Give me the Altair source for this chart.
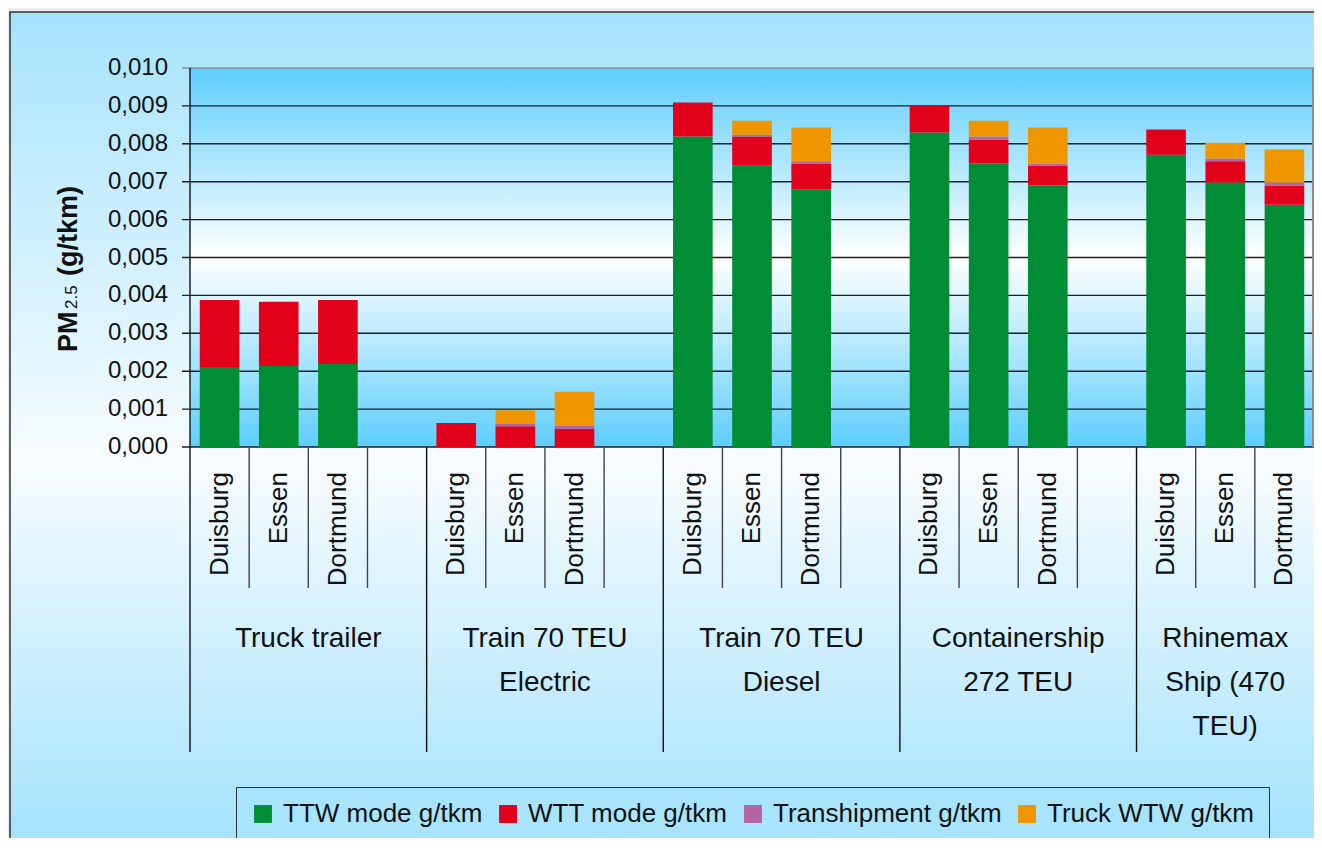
import altair as alt
import pandas as pd

# ---------------- data ----------------
groups = ["Truck trailer", "Train 70 TEU\nElectric", "Train 70 TEU\nDiesel",
          "Containership\n272 TEU", "Rhinemax\nShip (470\nTEU)"]
group_slots = [4, 4, 4, 4, 3]
cities = ["Duisburg", "Essen", "Dortmund"]
series = ["TTW mode g/tkm", "WTT mode g/tkm", "Transhipment g/tkm", "Truck WTW g/tkm"]
colors = ["#008d36", "#e2001a", "#b463a6", "#ee9500"]

ttw = [0.00211, 0.00214, 0.00219, 0.0, 0.0, 0.0, 0.00819, 0.00742, 0.00680,
       0.00830, 0.00748, 0.00690, 0.00771, 0.00698, 0.00639]
wtt = [0.00177, 0.00169, 0.00169, 0.00063, 0.00055, 0.00048, 0.00090, 0.00077, 0.00068,
       0.00071, 0.00063, 0.00052, 0.00067, 0.00056, 0.00051]
tranship = [0.0, 0.0, 0.0, 0.0, 0.00006, 0.00008, 0.0, 0.00005, 0.00006,
            0.0, 0.00008, 0.00006, 0.0, 0.00007, 0.00008]
truck_wtw = [0.0, 0.0, 0.0, 0.0, 0.00036, 0.00090, 0.0, 0.00037, 0.00089,
             0.0, 0.00042, 0.00095, 0.0, 0.00042, 0.00087]
y_ticks = [0.000, 0.001, 0.002, 0.003, 0.004, 0.005, 0.006, 0.007, 0.008, 0.009, 0.010]

FONT = "Liberation Sans"
W, H = 1124, 379
PAD_L, PAD_T, PAD_B = 182, 60, 391
N_SLOTS = sum(group_slots)

# ---------------- tables ----------------
all_series = [ttw, wtt, tranship, truck_wtw]
bar_rows, city_rows, group_rows, gsep_rows, csep_rows = [], [], [], [], []
for g in range(len(groups)):
    group_rows.append({"gc": 4 * g + group_slots[g] / 2, "label": groups[g]})
    gsep_rows.append({"b": 4 * g})
    for j in range(1, 4):
        if j < group_slots[g]:
            csep_rows.append({"b": 4 * g + j})
    for c in range(len(cities)):
        i = 3 * g + c
        slot = 4 * g + c
        city_rows.append({"cc": slot + 0.5, "city": cities[c]})
        for k, vals in enumerate(all_series):
            if vals[i] > 0:
                bar_rows.append({"slot": slot, "series": series[k], "k": k, "value": vals[i]})

bars_df = pd.DataFrame(bar_rows)
city_df = pd.DataFrame(city_rows)
group_df = pd.DataFrame(group_rows)
gsep_df = pd.DataFrame(gsep_rows)
csep_df = pd.DataFrame(csep_rows)
tick_df = pd.DataFrame({"t": y_ticks})
one = pd.DataFrame({"a": [0]})

xscale = alt.Scale(domain=[0, N_SLOTS], nice=False, zero=False)
yscale = alt.Scale(domain=[0, 0.010], nice=False)

# ---------------- backgrounds ----------------
outer_bg = alt.Chart(one).mark_rect(
    fill=alt.Gradient(gradient="linear", x1=0, x2=0, y1=0, y2=1,
                      stops=[alt.GradientStop(offset=0, color="#a5e3fc"),
                             alt.GradientStop(offset=0.53, color="#f8fcff"),
                             alt.GradientStop(offset=1, color="#a0e1fc")]),
    stroke="#333333", strokeWidth=1.5
).encode(x=alt.value(-180), x2=alt.value(W + 20), y=alt.value(-56), y2=alt.value(H + 414))

plot_bg = alt.Chart(one).mark_rect(
    fill=alt.Gradient(gradient="linear", x1=0, x2=0, y1=0, y2=1,
                      stops=[alt.GradientStop(offset=0, color="#5ecefd"),
                             alt.GradientStop(offset=0.5, color="#ffffff"),
                             alt.GradientStop(offset=1, color="#5ecefd")])
).encode(x=alt.value(0), x2=alt.value(W), y=alt.value(0), y2=alt.value(H))

grid = alt.Chart(tick_df).mark_rule(strokeWidth=1.4).encode(
    y=alt.Y("t:Q", scale=yscale, axis=None),
    x=alt.value(-8), x2=alt.value(W),
    color=alt.condition("datum.t > 0.0095", alt.value("#8c8c8c"), alt.value("#1e1e1e")),
)

# y axis drawn as marks (tick labels with decimal comma)
y_labels = alt.Chart(tick_df).transform_calculate(
    lab="replace(format(datum.t, '.3f'), '.', ',')"
).mark_text(align="right", baseline="middle", font=FONT, fontSize=24, color="#111111").encode(
    y=alt.Y("t:Q", scale=yscale, axis=None), x=alt.value(-22), text="lab:N")

y_domain = alt.Chart(one).mark_rule(color="#222222", strokeWidth=1.5).encode(
    x=alt.value(0), y=alt.value(0), y2=alt.value(H))

right_border = alt.Chart(one).mark_rule(color="#8c8c8c", strokeWidth=2).encode(
    x=alt.value(W - 1), y=alt.value(0), y2=alt.value(H))

# ---------------- bars ----------------
bars = alt.Chart(bars_df).transform_stack(
    stack="value", groupby=["slot"], as_=["v0", "v1"],
    sort=[alt.SortField("k", order="ascending")]
).transform_calculate(
    x0="datum.slot + 0.165", x1="datum.slot + 0.835"
).mark_bar(strokeWidth=0).encode(
    x=alt.X("x0:Q", scale=xscale, axis=None),
    x2="x1:Q",
    y=alt.Y("v0:Q", scale=yscale, axis=None),
    y2="v1:Q",
    color=alt.Color("series:N", scale=alt.Scale(domain=series, range=colors),
                    legend=alt.Legend(title=None, orient="none", legendX=46, legendY=719,
                                      direction="horizontal", columns=4,
                                      symbolType="square", symbolSize=320,
                                      symbolStrokeWidth=0, labelFont=FONT,
                                      labelFontSize=26, labelColor="#111111",
                                      labelOffset=7, columnPadding=12, padding=14,
                                      labelLimit=400, strokeColor="#333333",
                                      fillColor="#a8e4fc")),
)

# ---------------- category axis ----------------
group_seps = alt.Chart(gsep_df).mark_rule(strokeWidth=1.4, color="#111111").encode(
    x=alt.X("b:Q", scale=xscale, axis=None), y=alt.value(H), y2=alt.value(H + 305))
city_seps = alt.Chart(csep_df).mark_rule(strokeWidth=1.4, color="#444444").encode(
    x=alt.X("b:Q", scale=xscale, axis=None), y=alt.value(H), y2=alt.value(H + 141))

city_text = alt.Chart(city_df).mark_text(
    angle=270, align="right", baseline="middle", font=FONT, fontSize=26, color="#111111"
).encode(x=alt.X("cc:Q", scale=xscale, axis=None), y=alt.value(H + 25), text="city:N")

group_text = alt.Chart(group_df).mark_text(
    align="center", baseline="alphabetic", lineBreak="\n", lineHeight=44,
    font=FONT, fontSize=28, color="#111111"
).encode(x=alt.X("gc:Q", scale=xscale, axis=None), y=alt.value(H + 200), text="label:N")

# ---------------- y title (PM2.5 with subscript) ----------------
t_pm = alt.Chart(one).mark_text(text="PM", angle=270, align="left", baseline="alphabetic",
                                font=FONT, fontSize=27, fontWeight="bold", color="#111111"
                                ).encode(x=alt.value(-113), y=alt.value(284))
t_sub = alt.Chart(one).mark_text(text="2.5", angle=270, align="left", baseline="alphabetic",
                                 font=FONT, fontSize=17, color="#111111"
                                 ).encode(x=alt.value(-113), y=alt.value(241))
t_unit = alt.Chart(one).mark_text(text="(g/tkm)", angle=270, align="left", baseline="alphabetic",
                                  font=FONT, fontSize=27, fontWeight="bold", color="#111111"
                                  ).encode(x=alt.value(-113), y=alt.value(208))

chart = alt.layer(
    outer_bg, plot_bg, grid, y_labels, y_domain, right_border, bars, group_seps, city_seps,
    city_text, group_text, t_pm, t_sub, t_unit
).properties(
    width=W, height=H,
    padding={"left": PAD_L, "top": PAD_T, "right": 0, "bottom": PAD_B},
    autosize=alt.AutoSizeParams(type="none"),
).configure(background="#ececec").configure_view(strokeWidth=0)

chart.save("out.html", embed_options={"renderer": "svg", "actions": False})
